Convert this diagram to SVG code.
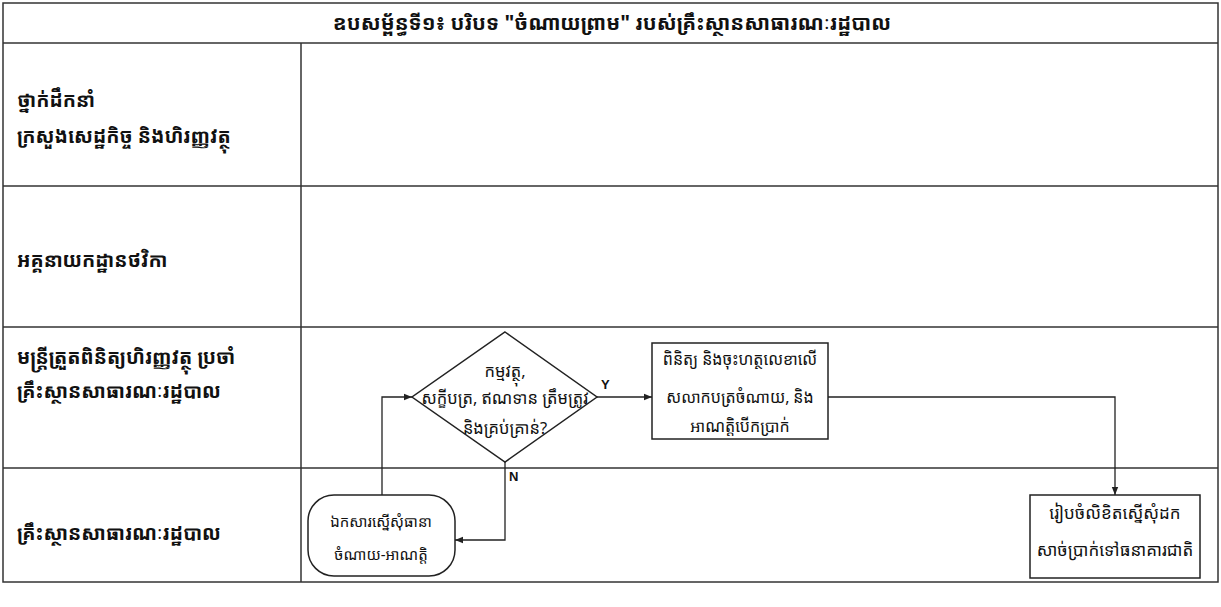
<svg xmlns="http://www.w3.org/2000/svg" width="1221" height="607" viewBox="0 0 1221 607">
<style>
text{font-family:"Noto Sans Khmer","Khmer OS","Noto Sans","DejaVu Sans",sans-serif;fill:#111}
.title{font-size:20.5px;font-weight:bold}
.lane{font-size:19.5px;font-weight:bold}
.lbl{font-size:16px}
.yn{font-family:"Liberation Sans",Arial,sans-serif;font-size:13px;font-weight:bold}
.grid{stroke:#333;stroke-width:1.5;fill:none}
.shape{fill:#fff;stroke:#222;stroke-width:1.5}
.conn{fill:none;stroke:#222;stroke-width:1.3}
</style>
<defs>
<marker id="arr" viewBox="0 0 10 10" refX="10" refY="5" markerWidth="8" markerHeight="8" orient="auto" markerUnits="userSpaceOnUse">
<path d="M0,1 L10,5 L0,9 z" fill="#222"/>
</marker>
</defs>
<rect width="1221" height="607" fill="#fff"/>
<g id="frame" class="grid">
<rect x="3" y="3" width="1215" height="579"/>
<line x1="3" y1="43" x2="1218" y2="43"/>
<line x1="3" y1="186" x2="1218" y2="186"/>
<line x1="3" y1="327" x2="1218" y2="327"/>
<line x1="3" y1="468" x2="1218" y2="468"/>
<line x1="301" y1="43" x2="301" y2="582"/>
</g>
<text class="title" x="612" y="30" text-anchor="middle">ឧបសម្ព័ន្ធទី១៖ បរិបទ "ចំណាយព្រាម" របស់គ្រឹះស្ថានសាធារណៈរដ្ឋបាល</text>
<g id="lane1"><text class="lane" x="17" y="107">ថ្នាក់ដឹកនាំ</text><text class="lane" x="17" y="143">ក្រសួងសេដ្ឋកិច្ច និងហិរញ្ញវត្ថុ</text></g>
<g id="lane2"><text class="lane" x="17" y="267">អគ្គនាយកដ្ឋានថវិកា</text></g>
<g id="lane3"><text class="lane" x="17" y="364">មន្ត្រីត្រួតពិនិត្យហិរញ្ញវត្ថុ ប្រចាំ</text><text class="lane" x="17" y="398">គ្រឹះស្ថានសាធារណៈរដ្ឋបាល</text></g>
<g id="lane4"><text class="lane" x="17" y="540">គ្រឹះស្ថានសាធារណៈរដ្ឋបាល</text></g>
<g id="connectors">
<polyline class="conn" points="382,495 382,397 412,397" marker-end="url(#arr)"/>
<line class="conn" x1="597" y1="397" x2="652" y2="397" marker-end="url(#arr)"/>
<polyline class="conn" points="505,462 505,540 455,540" marker-end="url(#arr)"/>
<polyline class="conn" points="828,397 1115,397 1115,495" marker-end="url(#arr)"/>
<text class="yn" x="601" y="389">Y</text>
<text class="yn" x="509" y="481">N</text>
</g>
<g id="decision">
<polygon class="shape" points="505,332 597,397 505,462 412,397"/>
<text class="lbl" x="505" y="377" text-anchor="middle" style="font-size:16.5px">កម្មវត្ថុ,</text>
<text class="lbl" x="505" y="404" text-anchor="middle" style="font-size:16.5px">សក្ខីបត្រ, ឥណទាន ត្រឹមត្រូវ</text>
<text class="lbl" x="505" y="434" text-anchor="middle" style="font-size:16.5px">និងគ្រប់គ្រាន់?</text>
</g>
<g id="check">
<rect class="shape" x="652" y="343" width="176" height="96"/>
<text class="lbl" x="740" y="365" text-anchor="middle">ពិនិត្យ និងចុះហត្ថលេខាលើ</text>
<text class="lbl" x="740" y="403" text-anchor="middle">សលាកបត្រចំណាយ, និង</text>
<text class="lbl" x="740" y="432" text-anchor="middle">អាណត្តិបើកប្រាក់</text>
</g>
<g id="request">
<rect class="shape" x="308" y="495" width="147" height="81" rx="26" ry="26"/>
<text class="lbl" x="381" y="527" text-anchor="middle" style="font-size:15px">ឯកសារស្នើសុំធានា</text>
<text class="lbl" x="381" y="560" text-anchor="middle" style="font-size:15px">ចំណាយ-អាណត្តិ</text>
</g>
<g id="letter">
<rect class="shape" x="1030" y="495" width="170" height="83"/>
<text class="lbl" x="1115" y="519" text-anchor="middle" style="font-size:17px">រៀបចំលិខិតស្នើសុំដក</text>
<text class="lbl" x="1115" y="556" text-anchor="middle" style="font-size:17px">សាច់ប្រាក់ទៅធនាគារជាតិ</text>
</g>
</svg>
